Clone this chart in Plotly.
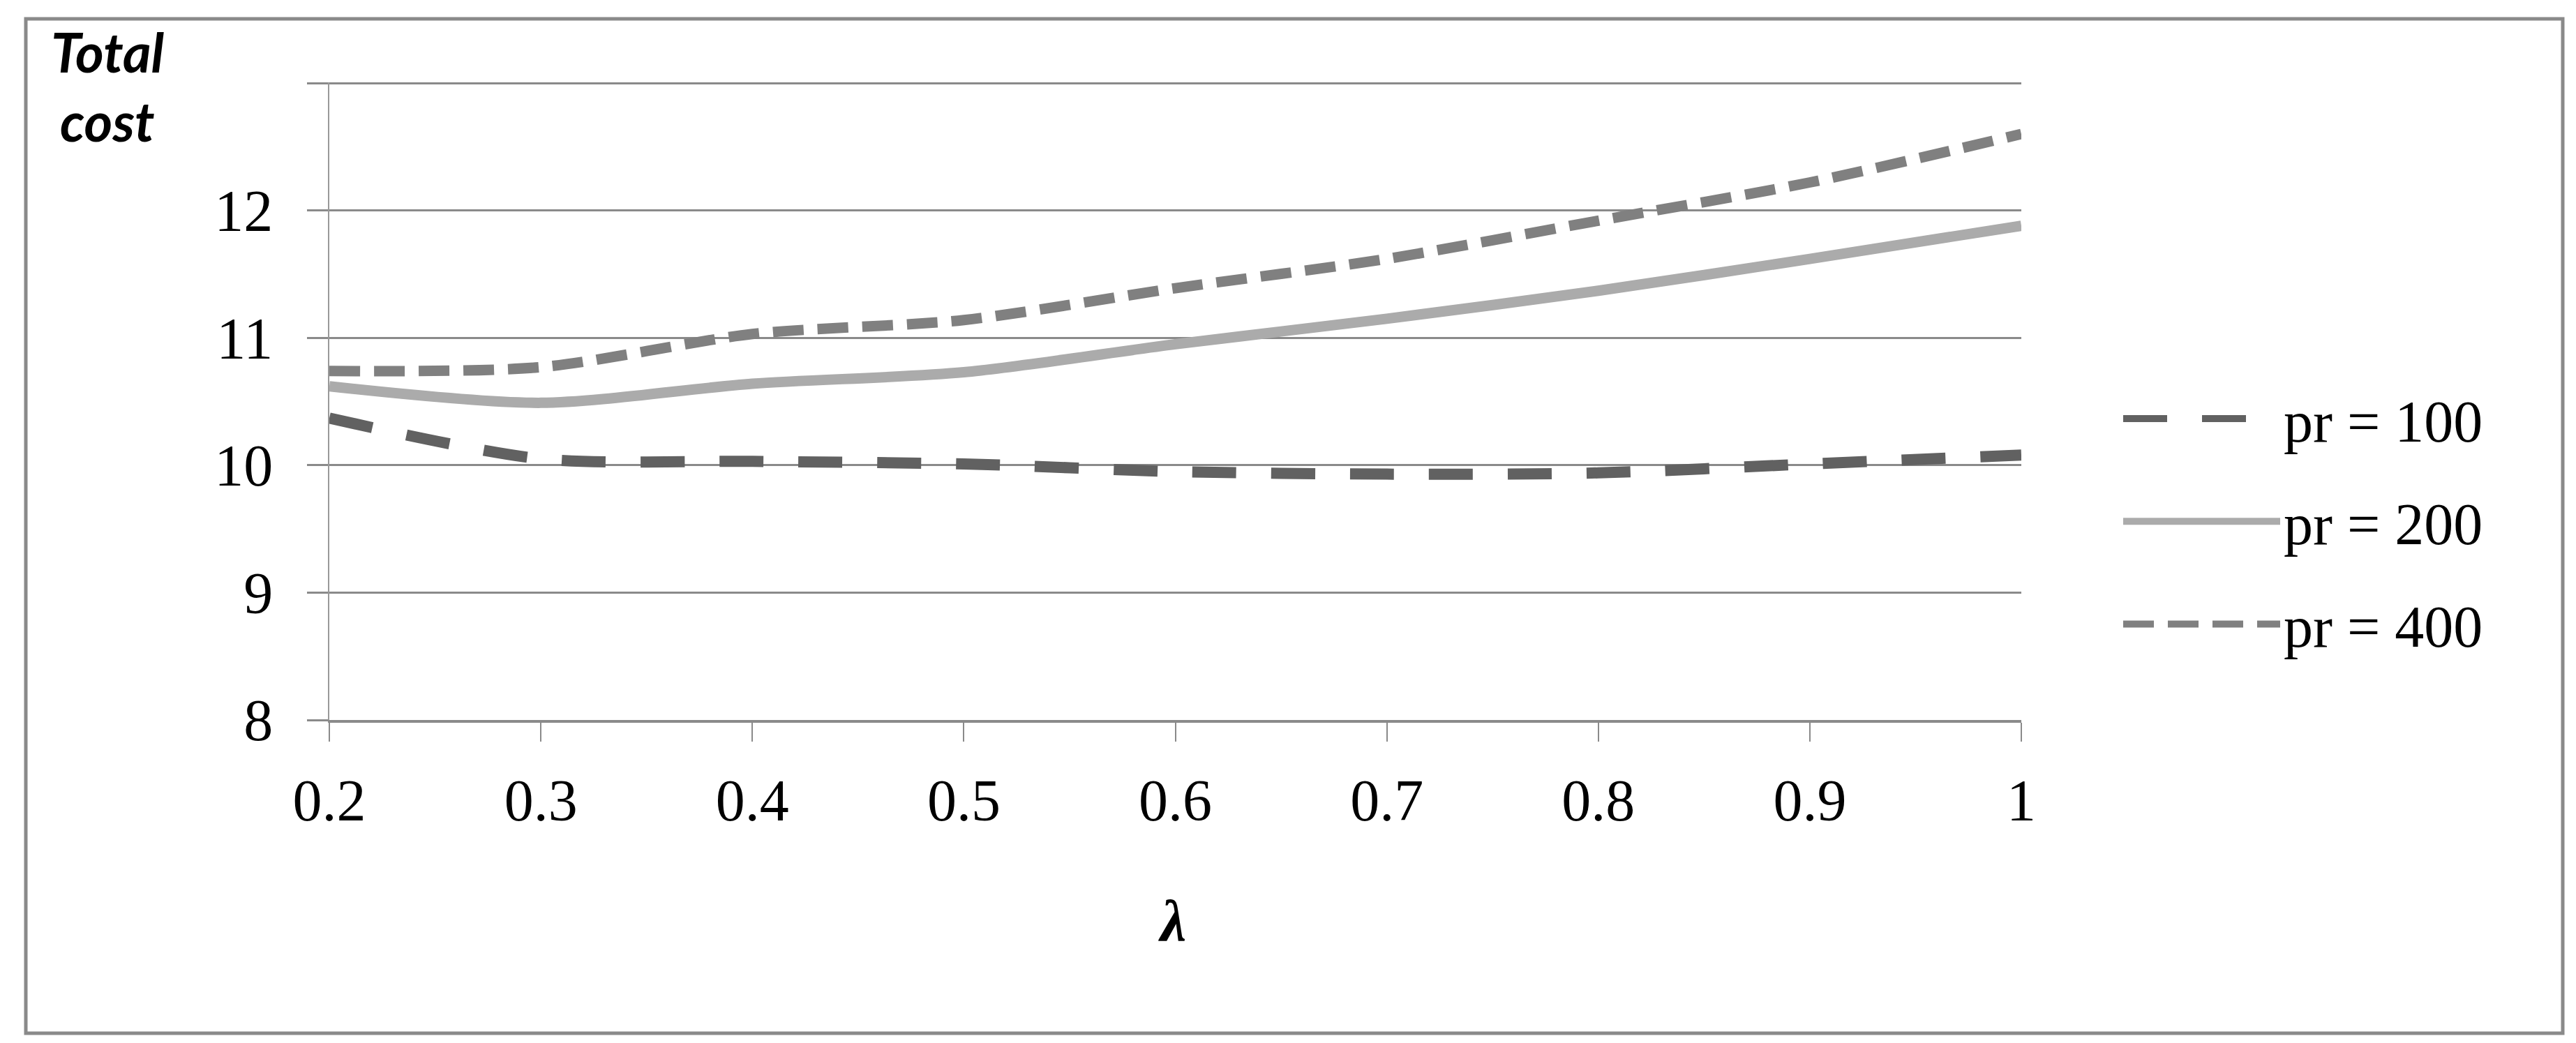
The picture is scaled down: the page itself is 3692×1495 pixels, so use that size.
import plotly.graph_objects as go

# ---- data ----
lam = [0.2, 0.3, 0.4, 0.5, 0.6, 0.7, 0.8, 0.9, 1.0]
pr100 = [10.37, 10.05, 10.03, 10.01, 9.95, 9.93, 9.94, 10.01, 10.08]
pr200 = [10.62, 10.49, 10.64, 10.73, 10.95, 11.15, 11.37, 11.62, 11.88]
pr400 = [10.74, 10.77, 11.03, 11.14, 11.39, 11.62, 11.92, 12.22, 12.60]
series_names = ["pr = 100", "pr = 200", "pr = 400"]
x_ticks = [0.2, 0.3, 0.4, 0.5, 0.6, 0.7, 0.8, 0.9, 1.0]
x_ticklabels = ["0.2", "0.3", "0.4", "0.5", "0.6", "0.7", "0.8", "0.9", "1"]
y_ticks = [8, 9, 10, 11, 12, 13]
y_ticklabels = ["8", "9", "10", "11", "12", ""]

# ---- layout geometry (pixels) ----
W, H = 3692, 1495
L, R, T, B = 464, 2889, 110, 1024


def px_x(p):
    return (p - L) / (R - L)


def px_y(p):
    return (B - p) / (B - T)


SERIF = "Liberation Serif, Times New Roman, serif"

fig = go.Figure()
styles = [
    dict(color="#616161", width=16, dash="63px,50px"),
    dict(color="#ababab", width=15, dash="solid"),
    dict(color="#808080", width=15, dash="44px,20px"),
]
for i, (name, ys) in enumerate(zip(series_names, [pr100, pr200, pr400])):
    fig.add_trace(go.Scatter(
        x=lam, y=ys, mode="lines", name=name,
        line=dict(shape="spline", smoothing=0.8, **styles[i]),
        legendgroup="g%d" % i,
    ))

fig.update_layout(
    width=W, height=H,
    margin=dict(l=L, r=W - R, t=T, b=H - B, pad=0),
    paper_bgcolor="white", plot_bgcolor="white",
    font=dict(family=SERIF, size=84, color="black"),
    showlegend=True,
    legend=dict(
        x=px_x(3030), xanchor="left",
        y=px_y(531), yanchor="top",
        itemwidth=225,
        tracegroupgap=35,
        font=dict(family=SERIF, size=84, color="black"),
        bgcolor="rgba(0,0,0,0)",
    ),
    xaxis=dict(
        range=[0.2, 1.0],
        tickmode="array", tickvals=x_ticks, ticktext=x_ticklabels,
        ticks="outside", ticklen=27, tickwidth=2, tickcolor="#8a8a8a",
        showline=True, linecolor="#8a8a8a", linewidth=4,
        showgrid=False, zeroline=False,
        tickfont=dict(family=SERIF, size=84, color="black"),
        ticklabelstandoff=12,
    ),
    yaxis=dict(
        range=[8, 13.006],
        tickmode="array", tickvals=y_ticks, ticktext=y_ticklabels,
        ticks="outside", ticklen=30, tickwidth=3, tickcolor="#8a8a8a",
        showline=True, linecolor="#999999", linewidth=2,
        showgrid=True, gridcolor="#8a8a8a", gridwidth=3,
        zeroline=False,
        tickfont=dict(family=SERIF, size=84, color="black"),
        ticklabelstandoff=32,
    ),
    shapes=[
        dict(type="rect", xref="paper", yref="paper",
             x0=px_x(29), x1=px_x(3665), y0=px_y(1473), y1=px_y(19),
             line=dict(color="#8a8a8a", width=5), fillcolor="rgba(0,0,0,0)",
             layer="below"),
    ],
    annotations=[
        dict(text="<b><i>Total</i></b>", xref="paper", yref="paper",
             x=px_x(146), y=px_y(66), xanchor="center", yanchor="middle",
             showarrow=False, font=dict(family="Lato, sans-serif", size=78, color="black")),
        dict(text="<b><i>cost</i></b>", xref="paper", yref="paper",
             x=px_x(146), y=px_y(165), xanchor="center", yanchor="middle",
             showarrow=False, font=dict(family="Lato, sans-serif", size=78, color="black")),
        dict(text="<i><b>λ</b></i>", xref="paper", yref="paper",
             x=px_x(1672), y=px_y(1311), xanchor="center", yanchor="middle",
             showarrow=False, font=dict(family=SERIF, size=84, color="black")),
    ],
)

fig.write_html("out.html")
